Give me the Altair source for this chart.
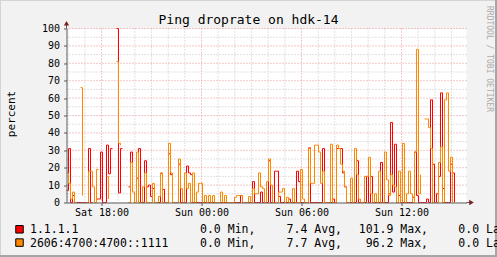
import altair as alt
import pandas as pd

# ---------------- data ----------------
red_vals = [
    7, 31, 0, 4, 0, 0, 0, 0, 0, 0,
    0, 31, 0, 0, None, 2, 2, 29, 0, 0,
    33, 16.5, 31, 31, None, 100, 5.5, 31, 31, None,
    None, 9, 29, 6, None, 14, 31, 0, 0, 24,
    9, 10, 3.5, 8, 0, 0, 0, 16.7, 7.5, 0,
    0, 28, 16, 0, 0, 0, 22, 0, 0, 0,
    21, 17, 16, 0, 0, 0, 0, 0, 0, 0,
    0, 0, 0, 0, 0, 0, 0, 0, 0, 0,
    0, 0, 0, 0, 0, 0, 0, 4, 0, 0,
    0, 0, 0, 12, 0, 0, 0, 6, 0, 0,
    0, 24, 0, 0, 18, 18, 3.5, 0, 0, 0,
    0, 2, 0, 0, 0, 18, 12, 0, 0, 0,
    0, 31.4, 0, 0, 0, 0, 0, 0, 31, 0,
    0, 0, 0, 2, 0, 31, 31, 31, 17, 9,
    0, 0, 0, 0, 0, 24, 0, 0, 0, 0,
    15, 0, 15, 0, 0, 0, 0, 23, 0, 0,
    0, 5, 46, 6, 33.5, 0, 4, 0, 0, 0,
    0, 0, 0, 3, 29, 4, 0, 0, 0, 0,
    2, 0, 59, 22, 0, 5, 15, 63, 8, 0,
    0, 0, 22, 17, 0, None, None, None, None, None,
]
orange_vals = [
    17, 11, 2, 6, 0, 0, None, 66, 4, None,
    0, 18, 18, 9, 0, 19, 19, None, None, None,
    15, 2, None, None, None, 81, 34, 33, None, None,
    None, 0, 23, 6, 0, 29, 0, 0, 9, 17,
    0, 0, 0, 11, 0, 0, 3.5, 17, 0, 0,
    0, 34, 17, 0, 0, 0, 25, 8, 0, 17,
    8, 11, 0, 17, 0, 6, 11, 11, 0, 4,
    0, 4, 0, 4, 0, 0, 0, 6, 0, 4,
    0, 0, 0, 0, 3, 4, 4, 4, 0, 0,
    0, 3.5, 0, 8, 5, 5, 17, 9, 8, 0,
    12, 25, 10, 0, 0, 0, 6, 6, 8, 0,
    3, 0, 0, 8, 0, 0, 0, 19, 2, 0,
    0, 31, 11, 11, 33, 33, 29, 11, 18, 0,
    0, 0, 33.5, 0, 0, 33, 31, 22, 18, 9,
    0, 0, 14, 0, 31, 16, 2, 0, 0, 15,
    15, 26, 5, 0, 5, 0, 18, 0, 0, 29,
    13, 4, 16, 10, 9, 0, 18, 0, 34, 0,
    5, 18, 5, 0, 29, 88, 5, 16, None, 48,
    48, 43, 31, 0, 0, 0, 23, 32, 0, 59,
    63, 18, 26, 0, None, None, None, None, None, None,
]
series_names = ["1.1.1.1", "2606:4700:4700::1111"]
series_colors = ["#ff0000", "#ff8800"]
stat_min = [0.0, 0.0]
stat_avg = [7.4, 7.7]
stat_max = [101.9, 96.2]
stat_last = [0.0, 0.0]
x_tick_times = ["2024-06-01 18:00", "2024-06-02 00:00", "2024-06-02 06:00", "2024-06-02 12:00"]
x_tick_labels = ["Sat 18:00", "Sun 00:00", "Sun 06:00", "Sun 12:00"]
y_tick_values = [0, 10, 20, 30, 40, 50, 60, 70, 80, 90, 100]
title_text = "Ping droprate on hdk-14"
y_title = "percent"
watermark = "RRDTOOL / TOBI OETIKER"


def ms(t):
    ts = pd.Timestamp(t)
    if ts.tzinfo is None:
        ts = ts.tz_localize("UTC")
    return int(ts.value // 1_000_000)


start_ms = ms("2024-06-01 15:54")
n = len(red_vals)
span_ms = 24 * 3600 * 1000
step_ms = span_ms // n
end_ms = start_ms + span_ms
times = [start_ms + i * step_ms for i in range(n)]

df_red = pd.DataFrame({"t": times, "v": red_vals})
df_orange = pd.DataFrame({"t": times, "v": orange_vals})

tick_ms = [ms(t) for t in x_tick_times]
label_expr = ""
for tm, lb in zip(tick_ms, x_tick_labels):
    label_expr += f"+datum.value == {tm} ? '{lb}' : "
label_expr += "''"

hours = pd.date_range(pd.Timestamp(start_ms, unit="ms", tz="UTC").ceil("h"),
                      pd.Timestamp(end_ms, unit="ms", tz="UTC"), freq="h")
df_vmin = pd.DataFrame({"t": [ms(h) for h in hours if h.hour % 6 != 0]})
df_vmaj = pd.DataFrame({"t": [ms(h) for h in hours if h.hour % 6 == 0]})
df_hmin = pd.DataFrame({"v": [v + 5 for v in y_tick_values[:-1]]})
df_hmaj = pd.DataFrame({"v": y_tick_values[1:]})

MONO = "DejaVu Sans Mono"
OX, OY = 66.5, 28.5  # plot origin in page pixels
W, H = 400, 174

xs = alt.Scale(type="utc", domain=[start_ms, end_ms], nice=False)
ys = alt.Scale(domain=[0, 100], nice=False, zero=True)

minor_col = "#c4c4c4"
major_col = "#e89090"
axis_col = "#5a5a5a"

x_axis = alt.Axis(values=tick_ms, labelExpr=label_expr, title=None, grid=False,
                  domainColor=axis_col, tickColor=axis_col, tickSize=3,
                  labelFont=MONO, labelFontSize=10, labelColor="#000000",
                  labelPadding=2, labelFlush=False, labelOverlap=False, zindex=1)
y_axis = alt.Axis(values=y_tick_values, title=None, grid=False,
                  domainColor=axis_col, tickColor=axis_col, tickSize=3,
                  labelFont=MONO, labelFontSize=10, labelColor="#000000",
                  labelPadding=4, labelOverlap=False, zindex=1)

DASH = [1, 2]
vmin = alt.Chart(df_vmin).mark_rule(color=minor_col, strokeDash=DASH, strokeWidth=1).encode(
    x=alt.X("t:T", scale=xs, axis=x_axis))
vmaj = alt.Chart(df_vmaj).mark_rule(color=major_col, strokeDash=DASH, strokeWidth=1).encode(
    x=alt.X("t:T", scale=xs, axis=x_axis))
hmin = alt.Chart(df_hmin).mark_rule(color=minor_col, strokeDash=DASH, strokeWidth=1).encode(
    y=alt.Y("v:Q", scale=ys, axis=y_axis))
hmaj = alt.Chart(df_hmaj).mark_rule(color=major_col, strokeDash=DASH, strokeWidth=1).encode(
    y=alt.Y("v:Q", scale=ys, axis=y_axis))

red_line = alt.Chart(df_red).mark_line(interpolate="step-after", strokeWidth=1,
                                       color=series_colors[0]).encode(
    x=alt.X("t:T", scale=xs, axis=x_axis),
    y=alt.Y("v:Q", scale=ys, axis=y_axis))
orange_line = alt.Chart(df_orange).mark_line(interpolate="step-after", strokeWidth=1,
                                             color=series_colors[1]).encode(
    x=alt.X("t:T", scale=xs, axis=x_axis),
    y=alt.Y("v:Q", scale=ys, axis=y_axis))

one = pd.DataFrame({"k": [0]})


def text(s, px, py, **kw):
    return alt.Chart(one).mark_text(**kw).encode(
        x=alt.value(px - OX), y=alt.value(py - OY), text=alt.value(s))


def rule(px1, py1, px2, py2, **kw):
    return alt.Chart(one).mark_rule(**kw).encode(
        x=alt.value(px1 - OX), y=alt.value(py1 - OY),
        x2=alt.value(px2 - OX), y2=alt.value(py2 - OY))


layers = [vmin, hmin, vmaj, hmaj, red_line, orange_line]

# frame shading
layers += [
    rule(0.5, 0, 0.5, 257, color="#d4d4d4", strokeWidth=1),
    rule(0, 0.5, 497, 0.5, color="#d4d4d4", strokeWidth=1),
    rule(496, 0, 496, 257, color="#a6a6a6", strokeWidth=2),
    rule(0, 256, 497, 256, color="#a6a6a6", strokeWidth=2),
]

# axis extensions and arrows
layers += [
    rule(OX, 25, OX, OY, color=axis_col, strokeWidth=1),
    rule(OX + W, OY + H, 470, OY + H, color=axis_col, strokeWidth=1),
    alt.Chart(one).mark_point(shape="triangle-up", filled=True, color="#801f1f",
                              size=28, opacity=1).encode(
        x=alt.value(0), y=alt.value(23.3 - OY)),
    alt.Chart(one).mark_point(shape="triangle-right", filled=True, color="#801f1f",
                              size=28, opacity=1).encode(
        x=alt.value(471.5 - OX), y=alt.value(OY + H - OY)),
]

# title, axis title, watermark
layers += [
    text(title_text, 248.5, 24, font=MONO, fontSize=13, align="center",
         baseline="alphabetic", color="#000000"),
    text(y_title, 12, 114, font=MONO, fontSize=11, align="center",
         baseline="middle", angle=270, color="#000000"),
    text(watermark, 489, 59, font=MONO, fontSize=8, align="center",
         baseline="middle", angle=90, color="#ababab"),
]

# legend
row_base = [233, 246.5]
row_mid = [229.3, 242.6]
for i in range(len(series_names)):
    layers.append(
        alt.Chart(one).mark_square(size=56, filled=True, color=series_colors[i],
                                   stroke="#000000", strokeWidth=1, opacity=1).encode(
            x=alt.value(19.5 - OX), y=alt.value(row_mid[i] - OY)))
    kw = dict(font=MONO, fontSize=11.5, baseline="alphabetic", color="#000000")
    layers.append(text(series_names[i], 30, row_base[i], align="left", **kw))
    layers.append(text(f"{stat_min[i]:.1f} Min,", 255.4, row_base[i], align="right", **kw))
    layers.append(text(f"{stat_avg[i]:.1f} Avg,", 342, row_base[i], align="right", **kw))
    layers.append(text(f"{stat_max[i]:.1f} Max,", 428, row_base[i], align="right", **kw))
    layers.append(text(f"{stat_last[i]:.1f} Last", 458.3, row_base[i], align="left", **kw))

chart = alt.layer(*layers).properties(
    width=W, height=H,
    padding={"left": OX, "top": OY, "right": 497 - OX - W, "bottom": 257 - OY - H},
    autosize=alt.AutoSizeParams(type="none"),
    background="#f2f2f2",
).configure_view(fill="#ffffff", stroke=None)

chart.save("out.html", embed_options={"renderer": "svg", "actions": False})
